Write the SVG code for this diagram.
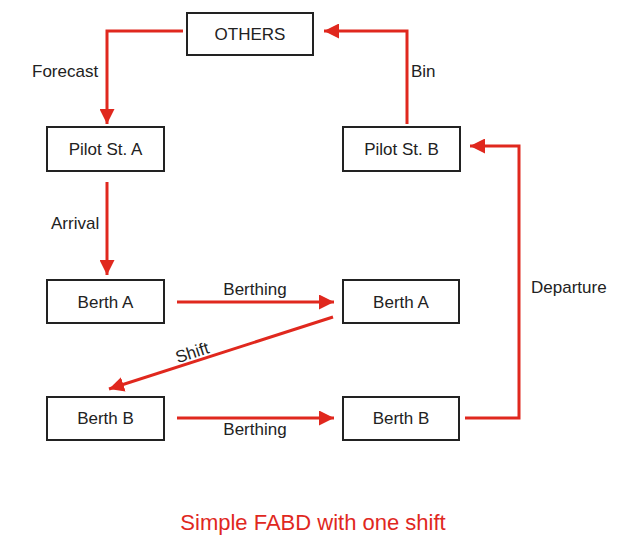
<svg xmlns="http://www.w3.org/2000/svg" width="623" height="548" viewBox="0 0 623 548">
<style>
.box{fill:#fff;stroke:#222;stroke-width:2}
.t{font-family:"Liberation Sans",Arial,sans-serif;font-size:17px;fill:#222}
.c{text-anchor:middle}
.ln{fill:none;stroke:#e0281e;stroke-width:3}
.title{font-family:"Liberation Sans",Arial,sans-serif;font-size:22px;fill:#e0281e;text-anchor:middle}
</style>
<defs>
<marker id="ah" markerWidth="6" markerHeight="5" refX="5" refY="2.5" orient="auto" markerUnits="strokeWidth">
<path d="M0,0 L5,2.5 L0,5 z" fill="#e0281e"/>
</marker>
</defs>
<rect width="623" height="548" fill="#fff"/>
<g id="connectors">
<path class="ln" d="M183,31 H107 V124" marker-end="url(#ah)"/>
<path class="ln" d="M407,124 V31 H324" marker-end="url(#ah)"/>
<path class="ln" d="M107,182 V275" marker-end="url(#ah)"/>
<path class="ln" d="M177,302 H334" marker-end="url(#ah)"/>
<path class="ln" d="M333,317 L109,389" marker-end="url(#ah)"/>
<path class="ln" d="M177,418 H334" marker-end="url(#ah)"/>
<path class="ln" d="M465,418 H519 V146 H470" marker-end="url(#ah)"/>
<text class="t" x="32" y="77">Forecast</text>
<text class="t" x="411" y="77">Bin</text>
<text class="t" x="51" y="229">Arrival</text>
<text class="t c" x="255" y="295">Berthing</text>
<text class="t c" x="255" y="435">Berthing</text>
<text class="t" x="531" y="293">Departure</text>
<text class="t c" x="0" y="0" transform="translate(194,358) rotate(-18)">Shift</text>
</g>
<g id="others"><rect class="box" x="187" y="13" width="126" height="42"/><text class="t c" x="250" y="40">OTHERS</text></g>
<g id="pilotA"><rect class="box" x="47" y="127" width="117" height="44"/><text class="t c" x="105.5" y="155">Pilot St. A</text></g>
<g id="pilotB"><rect class="box" x="343" y="127" width="117" height="44"/><text class="t c" x="401.5" y="155">Pilot St. B</text></g>
<g id="berthA1"><rect class="box" x="47" y="280" width="117" height="43"/><text class="t c" x="105.5" y="308">Berth A</text></g>
<g id="berthA2"><rect class="box" x="343" y="280" width="116" height="43"/><text class="t c" x="401" y="308">Berth A</text></g>
<g id="berthB1"><rect class="box" x="47" y="397" width="117" height="43"/><text class="t c" x="105.5" y="424">Berth B</text></g>
<g id="berthB2"><rect class="box" x="343" y="397" width="116" height="43"/><text class="t c" x="401" y="424">Berth B</text></g>
<text class="title" x="313" y="530">Simple FABD with one shift</text>
</svg>
